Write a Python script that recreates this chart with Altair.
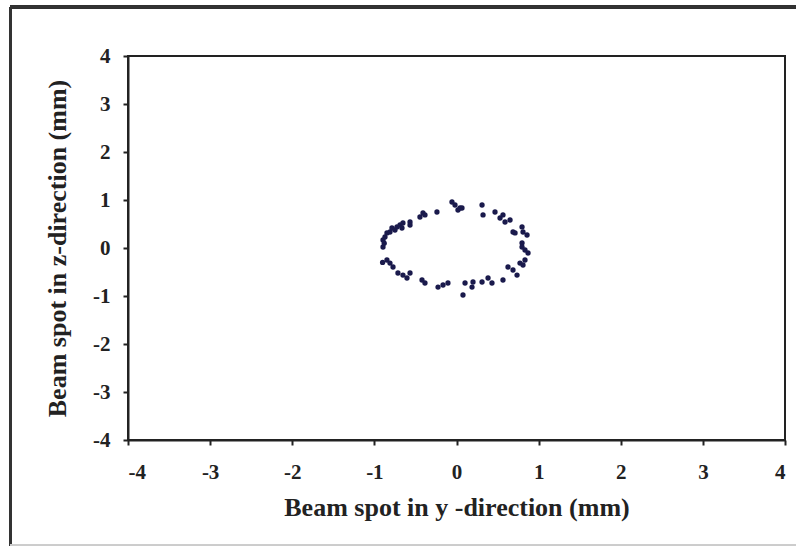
import altair as alt
import pandas as pd

# Beam spot positions (mm)
y_dir = [-0.895, -0.871, -0.847, -0.81, -0.786, -0.749, -0.725, -0.688, -0.664, -0.652,
         -0.566, -0.566, -0.445, -0.408, -0.384, -0.238, -0.055, -0.018, 0.018, 0.043,
         0.067, 0.311, 0.323, 0.469, 0.53, 0.566, 0.591, 0.652, 0.688, 0.713,
         0.798, 0.81, 0.859, 0.798,
         -0.895, -0.847, -0.81, -0.773, -0.713, -0.652, -0.603, -0.566, -0.42, -0.384,
         -0.225, -0.164, -0.104, 0.104, 0.079,
         0.189, 0.201, 0.311, 0.384, 0.432, 0.566, 0.627, 0.688, 0.737, 0.773,
         0.81, 0.834, 0.871, 0.798, 0.834, -0.88, -0.9]
z_dir = [0.167, 0.229, 0.313, 0.333, 0.417, 0.375, 0.438, 0.479, 0.417, 0.521,
         0.542, 0.479, 0.646, 0.729, 0.688, 0.75, 0.958, 0.896, 0.792, 0.833,
         0.833, 0.896, 0.688, 0.75, 0.625, 0.688, 0.542, 0.583, 0.333, 0.313,
         0.438, 0.333, 0.271, 0.104,
         0.021, -0.25, -0.313, -0.396, -0.521, -0.563, -0.625, -0.521, -0.667, -0.729,
         -0.813, -0.771, -0.729, -0.729, -0.979,
         -0.813, -0.708, -0.708, -0.625, -0.729, -0.667, -0.396, -0.458, -0.563, -0.313,
         -0.354, -0.25, -0.104, 0.021, -0.042, 0.1, -0.3]

ticks = [-4, -3, -2, -1, 0, 1, 2, 3, 4]

df = pd.DataFrame({"y": y_dir, "z": z_dir})

FONT = "Liberation Serif"

points = alt.Chart(df).mark_circle(size=28, color="#1a1a4c", opacity=1).encode(
    x=alt.X("y:Q", scale=alt.Scale(domain=[-4, 4], nice=False),
            axis=alt.Axis(values=ticks, title="Beam spot in y -direction (mm)",
                          grid=False, tickSize=5, labelPadding=16, titlePadding=12,
                          format="d")),
    y=alt.Y("z:Q", scale=alt.Scale(domain=[-4, 4], nice=False),
            axis=alt.Axis(values=ticks, title="Beam spot in z-direction (mm)",
                          grid=False, tickSize=5, labelPadding=13, titlePadding=22,
                          format="d")),
)

frame_top = alt.Chart(df).mark_rule(color="#333333", strokeWidth=2.5, clip=False).encode(
    x=alt.value(-118), x2=alt.value(700), y=alt.value(-49)
)
frame_left = alt.Chart(df).mark_rule(color="#333333", strokeWidth=3, clip=False).encode(
    x=alt.value(-117.5), y=alt.value(-49), y2=alt.value(500)
)
frame_bottom = alt.Chart(df).mark_rule(color="#cccccc", strokeWidth=1, clip=False).encode(
    x=alt.value(-118), x2=alt.value(700), y=alt.value(489)
)

chart = alt.layer(points, frame_top, frame_left, frame_bottom).properties(
    width=657, height=384,
    autosize=alt.AutoSizeParams(type="none"),
    padding={"left": 128, "top": 56, "right": 11, "bottom": 106},
).configure_view(
    stroke="#222222", strokeWidth=2
).configure_axis(
    domainColor="#222222", domainWidth=2, tickColor="#222222", tickWidth=2,
    labelFont=FONT, labelFontSize=21, labelFontWeight="bold", labelColor="#222222",
    titleFont=FONT, titleFontSize=26, titleFontWeight="bold", titleColor="#222222",
    labelExpr="replace(datum.label, '−', '-')",
)

chart.save("out.html", embed_options={"renderer": "svg", "actions": False})
